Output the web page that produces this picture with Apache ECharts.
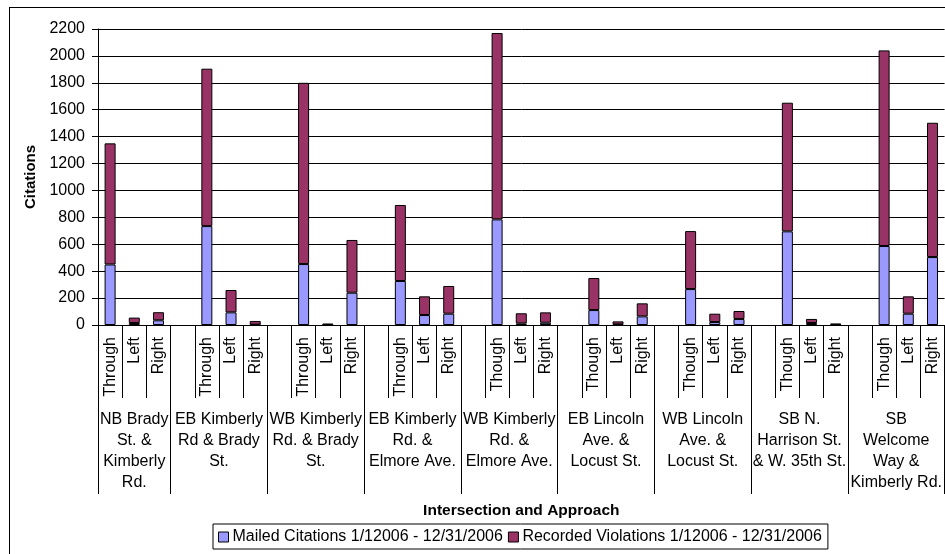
<!DOCTYPE html>
<html><head><meta charset="utf-8">
<script src="https://cdn.jsdelivr.net/npm/echarts@6/dist/echarts.min.js"></script>
<style>
html,body{margin:0;padding:0;background:#fff;overflow:hidden}
#c{width:945px;height:554px;position:absolute;left:0;top:0}
#frame{position:absolute;left:9px;top:7px;width:1000px;height:1000px;border:1px solid #000;pointer-events:none}
</style></head>
<body><div id="c"></div><div id="frame"></div>
<script>
const groupNames = [
  "NB Brady\nSt. &\nKimberly\nRd.",
  "EB Kimberly\nRd & Brady\nSt.",
  "WB Kimberly\nRd. & Brady\nSt.",
  "EB Kimberly\nRd. &\nElmore Ave.",
  "WB Kimberly\nRd. &\nElmore Ave.",
  "EB Lincoln\nAve. &\nLocust St.",
  "WB Lincoln\nAve. &\nLocust St.",
  "SB N.\nHarrison St.\n& W. 35th St.",
  "SB\nWelcome\nWay &\nKimberly Rd."
];
const approachLabels = [
  "Through","Left","Right",
  "Through","Left","Right",
  "Through","Left","Right",
  "Through","Left","Right",
  "Though","Left","Right",
  "Though","Left","Right",
  "Though","Left","Right",
  "Though","Left","Right",
  "Though","Left","Right"
];
const mailed = [
  450,15,35,
  735,94,3,
  453,2,240,
  327,74,84,
  785,12,17,
  111,5,64,
  267,22,45,
  696,15,3,
  587,84,505
];
const recorded = [
  900,40,60,
  1170,166,27,
  1347,8,392,
  565,139,206,
  1385,75,77,
  238,22,97,
  431,62,59,
  956,30,7,
  1454,129,998
];
const seriesNames = ["Mailed Citations 1/12006 - 12/31/2006","Recorded Violations 1/12006 - 12/31/2006"];
const yTicks = {min:0, max:2200, interval:200};

// build slot layout: blank slot between groups
const slotLabels = [], slotMailed = [], slotRecorded = [];
const groupBounds = [0], groupCenters = [];
for (let g = 0; g < groupNames.length; g++) {
  const start = slotLabels.length;
  if (g > 0) { slotLabels.push(""); slotMailed.push(null); slotRecorded.push(null); }
  for (let k = 0; k < 3; k++) {
    const i = g*3 + k;
    slotLabels.push(approachLabels[i]);
    slotMailed.push(mailed[i]);
    slotRecorded.push(recorded[i]);
  }
  const end = slotLabels.length;
  groupBounds.push(end);
  groupCenters.push((start + end) / 2);
}
const nSlots = slotLabels.length;
const FONT = "Liberation Sans, Arial, sans-serif";

const chart = echarts.init(document.getElementById('c'), null, {renderer:'canvas'});
chart.setOption({
  animation:false,
  textStyle:{fontFamily:FONT, color:'#000'},
  grid:{left:98, top:29, width:850, height:296, containLabel:false},
  legend:{
    left:213, top:524,
    data:seriesNames,
    icon:'rect', itemWidth:10, itemHeight:10, itemGap:5,
    borderColor:'#000', borderWidth:1, padding:[5,6,4,5],
    textStyle:{fontSize:16, color:'#000', fontFamily:FONT, padding:[0,0,0,-1]},
    itemStyle:{borderColor:'#000', borderWidth:1}
  },
  xAxis:[
    {
      type:'category', data:slotLabels, boundaryGap:true,
      axisLine:{show:true, lineStyle:{color:'#000', width:1}},
      axisTick:{show:true, interval:0, length:73, lineStyle:{color:'#000'}},
      axisLabel:{interval:0, rotate:90, fontSize:16, color:'#000', margin:12, fontFamily:FONT},
      splitLine:{show:false}
    },
    {
      type:'value', min:0, max:nSlots, position:'bottom',
      name:'Intersection and Approach', nameLocation:'middle', nameGap:178,
      nameTextStyle:{fontSize:15.5, fontWeight:'bold', color:'#000', fontFamily:FONT},
      axisLine:{show:false},
      axisTick:{show:true, customValues:groupBounds, length:169, lineStyle:{color:'#000'}},
      axisLabel:{
        customValues:groupCenters, margin:84, fontSize:16, lineHeight:21, color:'#000', fontFamily:FONT,
        align:'center',
        formatter:function(v){ const i = groupCenters.indexOf(v); return i >= 0 ? groupNames[i] : ''; }
      },
      splitLine:{show:false}
    }
  ],
  yAxis:{
    type:'value', min:yTicks.min, max:yTicks.max, interval:yTicks.interval,
    name:'Citations', nameLocation:'middle', nameGap:48, nameRotate:90,
    nameTextStyle:{fontSize:15, fontWeight:'bold', color:'#000', fontFamily:FONT},
    axisLine:{show:true, lineStyle:{color:'#000'}},
    axisTick:{show:true, length:6, lineStyle:{color:'#000'}},
    axisLabel:{fontSize:16, color:'#000', margin:13, fontFamily:FONT, formatter:function(v){ return String(v); }},
    splitLine:{show:true, lineStyle:{color:'#000', width:1}}
  },
  series:[
    {
      name:seriesNames[0], type:'bar', stack:'t', xAxisIndex:0, data:slotMailed,
      barWidth:11, itemStyle:{color:'#9999FF', borderColor:'#000', borderWidth:1}
    },
    {
      name:seriesNames[1], type:'bar', stack:'t', xAxisIndex:0, data:slotRecorded,
      barWidth:11, itemStyle:{color:'#993366', borderColor:'#000', borderWidth:1}
    }
  ]
});
</script>
</body></html>
